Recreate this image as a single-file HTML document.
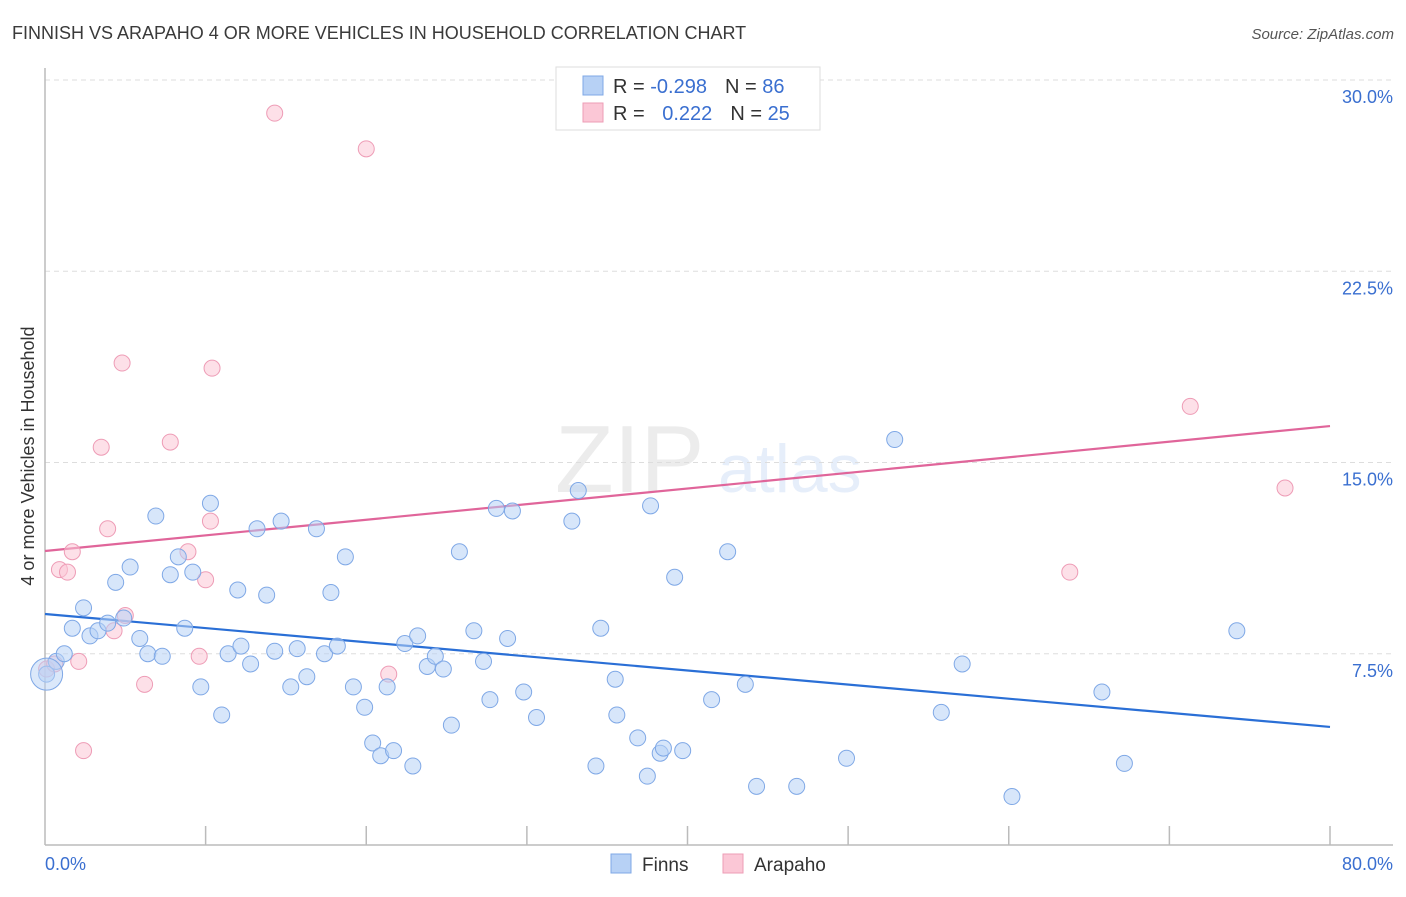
<!DOCTYPE html>
<html><head><meta charset="utf-8"><style>
body{margin:0;background:#fff;font-family:"Liberation Sans",sans-serif}
svg text{font-family:"Liberation Sans",sans-serif}
</style></head><body>
<svg id="chart" width="1406" height="892" xmlns="http://www.w3.org/2000/svg">
<text x="12" y="39" font-size="18" fill="#3a3a3a">FINNISH VS ARAPAHO 4 OR MORE VEHICLES IN HOUSEHOLD CORRELATION CHART</text>
<text x="1394" y="39" font-size="15" fill="#555" font-style="italic" text-anchor="end">Source: ZipAtlas.com</text>
<g opacity="0.18">
<text x="555" y="492" font-size="96" fill="#999" font-family="Liberation Serif">ZIP</text>
<text x="718" y="492" font-size="68" fill="#7aa7e8">atlas</text>
</g>
<g id="grid"></g>
<g id="axes"></g>
<g id="trend"></g>
<g id="points"></g>
<text transform="translate(34,456) rotate(-90)" font-size="18" fill="#333" text-anchor="middle">4 or more Vehicles in Household</text>
<g>
<rect x="556" y="67" width="264" height="63" fill="#fff" stroke="#ddd"/>
<rect x="583" y="76" width="20" height="19" fill="#b7d1f5" stroke="#7fa8e6"/>
<rect x="583" y="103" width="20" height="19" fill="#fbc7d6" stroke="#ee9cb6"/>
<text x="613" y="93" font-size="20" fill="#333">R = <tspan fill="#3a6fd0">-0.298</tspan><tspan dx="18">N = </tspan><tspan fill="#3a6fd0">86</tspan></text>
<text x="613" y="120" font-size="20" fill="#333">R = <tspan dx="12" fill="#3a6fd0">0.222</tspan><tspan dx="18">N = </tspan><tspan fill="#3a6fd0">25</tspan></text>
</g>
<g>
<rect x="611" y="854" width="20" height="19" fill="#b7d1f5" stroke="#7fa8e6"/>
<text x="642" y="871" font-size="19" fill="#333">Finns</text>
<rect x="723" y="854" width="20" height="19" fill="#fbc7d6" stroke="#ee9cb6"/>
<text x="754" y="871" font-size="19" fill="#333">Arapaho</text>
</g>
</svg>
<script>
const finnsX=[0.1,0.7,1.2,1.7,2.4,2.8,3.3,3.9,4.4,4.9,5.3,5.9,6.4,6.9,7.3,7.8,8.3,8.7,9.2,9.7,10.3,11.0,11.4,12.0,12.2,12.8,13.2,13.8,14.3,14.7,15.3,15.7,16.3,16.9,17.4,17.8,18.2,18.7,19.2,19.9,20.4,20.9,21.3,21.7,22.4,22.9,23.2,23.8,24.3,24.8,25.3,25.8,26.7,27.3,27.7,28.1,28.8,29.1,29.8,30.6,32.8,33.2,34.3,34.6,35.5,35.6,36.9,37.5,37.7,38.3,38.5,39.2,39.7,41.5,42.5,43.6,44.3,46.8,49.9,52.9,55.8,57.1,60.2,65.8,67.2,74.2];
const finnsY=[6.7,7.2,7.5,8.5,9.3,8.2,8.4,8.7,10.3,8.9,10.9,8.1,7.5,12.9,7.4,10.6,11.3,8.5,10.7,6.2,13.4,5.1,7.5,10.0,7.8,7.1,12.4,9.8,7.6,12.7,6.2,7.7,6.6,12.4,7.5,9.9,7.8,11.3,6.2,5.4,4.0,3.5,6.2,3.7,7.9,3.1,8.2,7.0,7.4,6.9,4.7,11.5,8.4,7.2,5.7,13.2,8.1,13.1,6.0,5.0,12.7,13.9,3.1,8.5,6.5,5.1,4.2,2.7,13.3,3.6,3.8,10.5,3.7,5.7,11.5,6.3,2.3,2.3,3.4,15.9,5.2,7.1,1.9,6.0,3.2,8.4];
const arapX=[0.1,0.6,0.9,1.4,1.7,2.1,2.4,3.5,3.9,4.3,4.8,5.0,6.2,7.8,8.9,9.6,10.0,10.3,10.4,14.3,20.0,21.4,63.8,71.3,77.2];
const arapY=[6.9,7.1,10.8,10.7,11.5,7.2,3.7,15.6,12.4,8.4,18.9,9.0,6.3,15.8,11.5,7.4,10.4,12.7,18.7,28.7,27.3,6.7,10.7,17.2,14.0];
const finnsTrend=[9.06,4.63];
const arapTrend=[11.53,16.43];
const yTicks=[7.5,15,22.5,30];
const xTicks=[0,10,20,30,40,50,60,70,80];
const NS='http://www.w3.org/2000/svg';
const X=v=>45+v*16.0625, Y=v=>845-v*25.5;
function mk(tag,attrs,parent){const e=document.createElementNS(NS,tag);for(const k in attrs)e.setAttribute(k,attrs[k]);parent.appendChild(e);return e;}
const grid=document.getElementById('grid'),axes=document.getElementById('axes'),trend=document.getElementById('trend'),pts=document.getElementById('points');
yTicks.forEach(t=>{const l=mk('line',{x1:45,x2:1393,y1:Y(t),y2:Y(t),stroke:'#ddd','stroke-dasharray':'5,4'},grid);


const tx=mk('text',{x:1393,y:Y(t)+23,'font-size':18,fill:'#3a6fd0','text-anchor':'end'},axes);tx.textContent=t.toFixed(1)+'%';

});
mk('line',{x1:45,x2:45,y1:68,y2:845,stroke:'#bbb','stroke-width':1.5},axes);
mk('line',{x1:45,x2:1393,y1:845,y2:845,stroke:'#bbb','stroke-width':1.5},axes);
xTicks.forEach(t=>{if(t>0){const l=mk('line',{x1:X(t),x2:X(t),y1:826,y2:845,stroke:'#bbb','stroke-width':1.5},axes);

}});
const x0=mk('text',{x:45,y:870,'font-size':18,fill:'#3a6fd0'},axes);x0.textContent='0.0%';


const x1=mk('text',{x:1393,y:870,'font-size':18,fill:'#3a6fd0','text-anchor':'end'},axes);x1.textContent='80.0%';


function dots(xs,ys,fill,stroke,name){xs.forEach((x,i)=>{const c=mk('circle',{cx:X(x),cy:Y(ys[i]),r:8,fill:fill,'fill-opacity':0.55,stroke:stroke,'stroke-width':1},pts);

});}
dots(arapX,arapY,'#fbc7d6','#ee9cb6','arapaho-point');
dots(finnsX,finnsY,'#b7d1f5','#7fa8e6','finns-point');
const big=mk('circle',{cx:X(finnsX[0]),cy:Y(finnsY[0]),r:16,fill:'#b7d1f5','fill-opacity':0.5,stroke:'#7fa8e6'},pts);


const t1=mk('line',{x1:X(0),y1:Y(finnsTrend[0]),x2:X(80),y2:Y(finnsTrend[1]),stroke:'#2a6fd6','stroke-width':2.2},trend);


const t2=mk('line',{x1:X(0),y1:Y(arapTrend[0]),x2:X(80),y2:Y(arapTrend[1]),stroke:'#e0659a','stroke-width':2.2},trend);


</script>
</body></html>
